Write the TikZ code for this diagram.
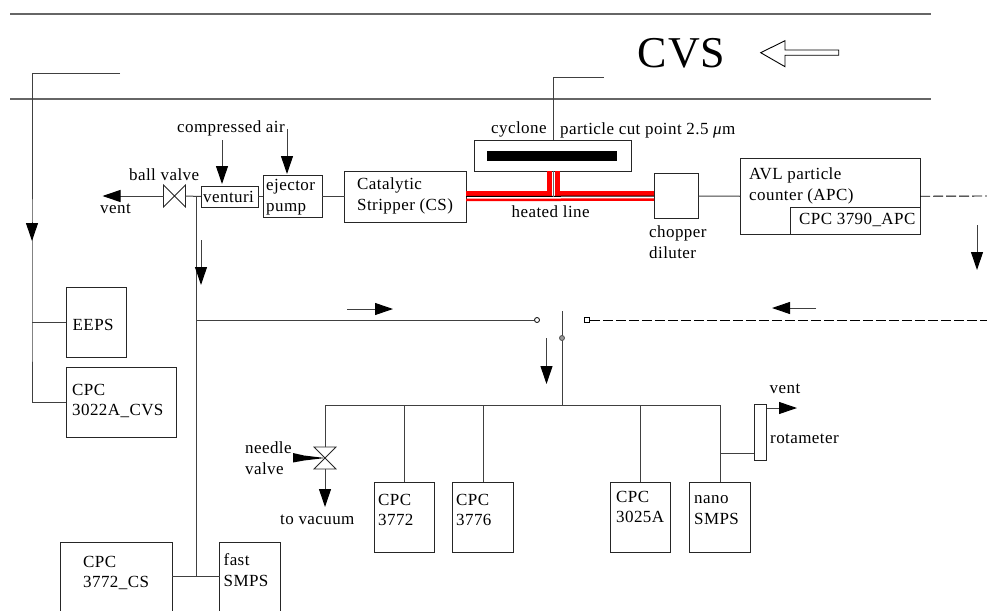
\documentclass[tikz,border=0pt]{standalone}
\usepackage{fontspec}
\setmainfont[LetterSpace=2.5]{Liberation Serif}
\usetikzlibrary{arrows.meta}

\tikzset{
    unit/.style = {rectangle, draw=black!85, line width=0.9pt, outer sep=0pt, inner sep=0pt},
    lab/.style = {anchor=west, inner sep=0pt, align=left, font=\fontsize{17}{20.5}\selectfont},
    rail/.style = {draw=black!60, line width=1.4pt},
    pipe/.style = {draw=black!75, line width=1pt},
    flow/.style = {pipe, -{Triangle[length=18pt, width=12pt, color=black]}},
    dashpipe/.style = {draw=black, line width=0.9pt, dash pattern=on 10pt off 3pt},
    valve/.style = {rectangle, minimum size=22pt, inner sep=0pt, outer sep=0pt},
    heat/.style = {draw=red, line width=5pt},
}

\begin{document}
\begin{tikzpicture}[x=1pt, y=-1pt, node distance=60pt]
            \clip[use as bounding box] (0,0) rectangle (987,610);

            % --- Free ends ---
            \foreach \name/\x/\y in {railAL/10/14, railAR/931/14, railBL/10/99, railBR/931/99,
                    extA/120/73, extB/603.5/77, ventL/102.5/196, tee/196/196, teeB/196/576,
                    edgeA/987/196, edgeB/987/320, bus/720/405, swTop/562/311, swBot/562/405,
                    ventR/797/408, rotaIn/720/453.5,
                    airAs/222/140, airAe/222/184, airBs/287/129, airBe/287/174,
                    mkAs/32/222, mkAe/32/241, mkBs/201/240, mkBe/201/285,
                    mkCs/347/309, mkCe/393/309, mkDs/816/308, mkDe/772/308,
                    mkEs/546.5/338, mkEe/546.5/384, mkFs/977/225, mkFe/977/270,
                    vacuum/325/507}
                \coordinate (\name) at (\x,\y);

            % --- Tunnel ---
            \draw[rail] (railAL) -- (railAR);
            \draw[rail] (railBL) -- (railBR);
            \node[font=\fontsize{44}{44}\selectfont, inner sep=0pt] (CVS) at (681.5,53) {CVS};
            \draw[line width=0.9pt, fill=white] (760.7,52.7) -- (785,40.7) -- (785,50) -- (838.7,50)
                -- (838.7,55.3) -- (785,55.3) -- (785,66.7) -- cycle;

            % --- Top row ---
            \node[valve] (ballvalve) at (174.5,196) {};
            \node[unit, minimum width=57pt, minimum height=21pt] (venturi) at (229.5,196.5) {};
            \node[unit, minimum width=59pt, minimum height=42.5pt] (ejector) [right of = venturi, xshift=3] {};
            \node[unit, minimum width=121.5pt, minimum height=51pt] (CS) [right of = ejector, xshift=52.75] {};
            \node[unit, minimum width=157pt, minimum height=31pt] (cyclone) at (553.2,155.5) {};
            \node[rectangle, fill=black, minimum width=130.5pt, minimum height=9.5pt, inner sep=0pt] (bar) at (551.75,155.75) {};
            \node[unit, minimum width=44.7pt, minimum height=45pt] (chopper) at (676.35,196) {};
            \node[unit, minimum width=180pt, minimum height=75.5pt] (APC) at (830,196.25) {};
            \node[unit, minimum width=129.7pt, minimum height=26.7pt, anchor=south east] (CPCAPC) at (APC.south east) {};

            % --- Left side ---
            \node[unit, minimum width=60pt, minimum height=70pt] (EEPS) at (96,322) {};
            \node[unit, minimum width=110pt, minimum height=70pt] (CPCCVS) [below of = EEPS, xshift=25, yshift=-20] {};
            \node[unit, minimum width=111.5pt, minimum height=72pt] (CPCCS) at (116.25,578) {};
            \node[unit, minimum width=60.5pt, minimum height=72pt] (fastSMPS) at (249.75,578) {};

            % --- Bottom row ---
            \node[valve] (needle) at (325,458) {};
            \node[unit, minimum width=60pt, minimum height=70pt] (CPCa) at (404,517) {};
            \node[unit, minimum width=61pt, minimum height=70pt] (CPCb) [right of = CPCa, xshift=19] {};
            \node[unit, minimum width=59.5pt, minimum height=70pt] (CPCc) [right of = CPCb, xshift=97.5] {};
            \node[unit, minimum width=61pt, minimum height=70pt] (nano) [right of = CPCc, xshift=19] {};
            \node[unit, minimum width=12.5pt, minimum height=56.5pt] (rota) at (760.25,432.25) {};

            % --- Switch ---
            \node[circle, draw, fill=white, line width=0.8pt, minimum size=5pt, inner sep=0pt] (swL) at (537,320) {};
            \node[rectangle, draw, fill=white, line width=0.8pt, minimum size=5pt, inner sep=0pt] (swR) at (587,320) {};

            % --- Heated line ---
            \draw[heat] ([yshift=3]CS.east) -- ([xshift=-3.5, yshift=3]cyclone.south |- CS.east) -- ([xshift=-3.5]cyclone.south);
            \draw[heat] ([yshift=3]chopper.west) -- ([xshift=4.5, yshift=3]cyclone.south |- chopper.west) -- ([xshift=4.5]cyclone.south);
            \draw[draw=red, line width=2.5pt] ([yshift=-3.5]CS.east) -- ([yshift=-3.5]chopper.west);
            \draw[line width=1pt] (CS.east) -- (chopper.west);
            \draw[draw=black!60, line width=1pt] (cyclone.south) -- (cyclone.south |- CS.east);

            % --- Valves ---
            \draw[line width=0.8pt, black!85] (ballvalve.north west) -- (ballvalve.south east) -- (ballvalve.north east)
                -- (ballvalve.south west) -- cycle;
            \draw[line width=0.8pt, black!85] (needle.north west) -- (needle.north east) -- (needle.south west)
                -- (needle.south east) -- cycle;
            \fill (293,453) -- (304,455.5) -- (needle.center) -- (304,460.5) -- (293,462.5) -- cycle;

            % --- Connections ---
            \draw[flow] (ballvalve.west) -- (ventL);
            \draw[pipe] (ballvalve.east) -- (venturi.west);
            \draw[pipe] (venturi.east) -- (ejector.west);
            \draw[pipe] (ejector.east) -- (CS.west);
            \draw[pipe] (chopper.east) -- (APC.west);
            \draw[dashpipe] (APC.east) -- (edgeA);
            \draw[pipe] (cyclone.north) |- (extB);
            \draw[pipe] (extA) -| (EEPS.west -| mkAs) |- (CPCCVS.west);
            \draw[pipe] (mkAs |- EEPS.west) -- (EEPS.west);
            \draw[pipe] (tee) -- (teeB);
            \draw[pipe] (teeB -| CPCCS.east) -- (teeB -| fastSMPS.west);
            \draw[pipe] (teeB |- swL) -- (swL);
            \draw[dashpipe] (swR) -- (edgeB);
            \draw[pipe] (swTop) -- (swBot);
            \node[circle, draw=black!70, fill=black!40, line width=0.8pt, minimum size=5pt, inner sep=0pt] (swC) at (562,338) {};
            \draw[pipe] (needle.north) |- (bus);
            \draw[pipe] (CPCa.north) -- (CPCa.north |- bus);
            \draw[pipe] (CPCb.north) -- (CPCb.north |- bus);
            \draw[pipe] (CPCc.north) -- (CPCc.north |- bus);
            \draw[pipe] (nano.north -| bus) -- (bus);
            \draw[pipe] (rotaIn) -- (rotaIn -| rota.west);
            \draw[flow] (rota.east |- ventR) -- (ventR);
            \draw[flow] (needle.south) -- (vacuum);

            % --- Flow markers ---
            \draw[flow] (airAs) -- (airAe);
            \draw[flow] (airBs) -- (airBe);
            \draw[flow] (mkAs) -- (mkAe);
            \draw[flow] (mkBs) -- (mkBe);
            \draw[flow] (mkCs) -- (mkCe);
            \draw[flow] (mkDs) -- (mkDe);
            \draw[flow] (mkEs) -- (mkEe);
            \draw[flow] (mkFs) -- (mkFe);

            % --- Labels ---
            \node[lab] (airlab) at (177,128) {compressed air};
            \node[lab] (balllab) at (129,175) {ball valve};
            \node[lab] (ventlabA) at (100,209) {vent};
            \node[lab] (venturilab) at (203,197) {venturi};
            \node[lab] (ejectorlab) at (266,197) {ejector\\pump};
            \node[lab] (CSlab) at (357,196) {Catalytic\\Stripper (CS)};
            \node[lab] (cyclab) at (491,129) {cyclone};
            \node[lab] (cutlab) at (560,130) {particle cut point 2.5 \textit{μ}m};
            \node[lab] (heatlab) at (511.5,212) {heated line};
            \node[lab] (choplab) at (649,242) {chopper\\diluter};
            \node[lab] (APClab) at (749,186) {AVL particle\\counter (APC)};
            \node[lab] (CPCAPClab) at (799,220) {CPC 3790\_APC};
            \node[lab] (EEPSlab) at (72.5,325) {EEPS};
            \node[lab] (CVSlab) at (72,401) {CPC\\3022A\_CVS};
            \node[lab] (CSCPClab) at (83,573) {CPC\\3772\_CS};
            \node[lab] (fastlab) at (223.5,570) {fast\\SMPS};
            \node[lab] (needlelab) at (245,458) {needle\\valve};
            \node[lab] (vaclab) at (280,520) {to vacuum};
            \node[lab] (CPCalab) at (378,510) {CPC\\3772};
            \node[lab] (CPCblab) at (456,510) {CPC\\3776};
            \node[lab] (CPCclab) at (616,507) {CPC\\3025A};
            \node[lab] (nanolab) at (694,510) {nano\\SMPS};
            \node[lab] (ventlabB) at (769.5,389) {vent};
            \node[lab] (rotalab) at (770,439) {rotameter};
\end{tikzpicture}
\end{document}
